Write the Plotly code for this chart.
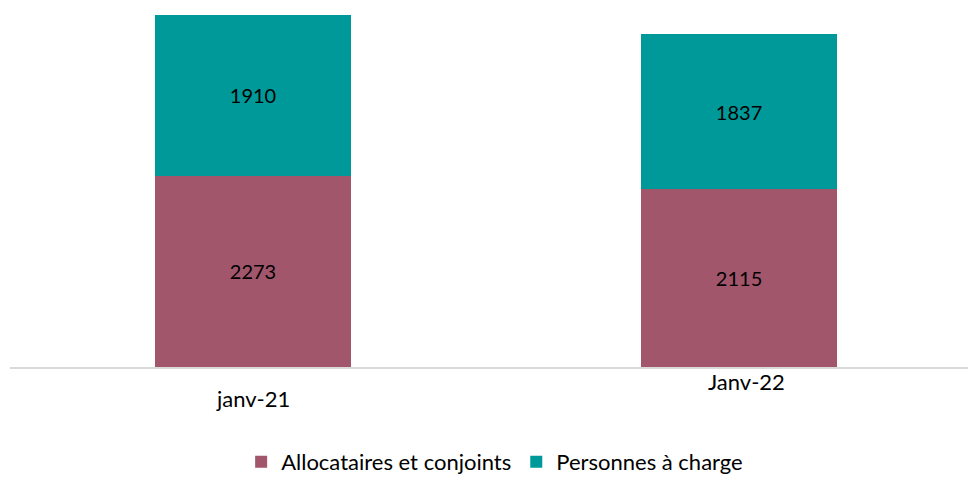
import plotly.graph_objects as go

categories = ["janv-21", "Janv-22"]
allocataires = [2273, 2115]
personnes = [1910, 1837]
series_names = ["Allocataires et conjoints", "Personnes à charge"]

FONT = "Lato"
fig = go.Figure()
fig.add_trace(go.Bar(x=[0, 1], y=allocataires, name=series_names[0],
                     marker=dict(color="#A1566C", line=dict(width=0)),
                     text=[str(v) for v in allocataires], textposition="inside",
                     insidetextanchor="middle", width=0.403,
                     textfont=dict(family=FONT, size=20, color="#000000")))
fig.add_trace(go.Bar(x=[0, 1], y=personnes, name=series_names[1],
                     marker=dict(color="#009999", line=dict(width=0)),
                     text=[str(v) for v in personnes], textposition="inside",
                     insidetextanchor="middle", width=0.403,
                     textfont=dict(family=FONT, size=20, color="#000000")))

total0 = allocataires[0] + personnes[0]
fig.update_layout(
    barmode="stack",
    width=968, height=478,
    margin=dict(l=10, r=0, t=15, b=111),
    paper_bgcolor="white", plot_bgcolor="white",
    font=dict(family=FONT, size=22, color="#000000"),
    xaxis=dict(range=[-0.5, 1.471], showticklabels=False, showgrid=False,
               zeroline=False, showline=True, linecolor="#d9d9d9", linewidth=1.5,
               ticks=""),
    yaxis=dict(range=[0, total0], visible=False),
    legend=dict(orientation="h", x=0.511, xanchor="center", xref="container",
                y=1 - 462 / 478, yanchor="middle", yref="container",
                font=dict(family=FONT, size=22), traceorder="normal",
                itemwidth=30, tracegroupgap=0),
    showlegend=True,
    hovermode=False,
    uniformtext=dict(mode=False),
)
# category labels (the second one sits higher in the reference)
label_pos = [(-0.090, 0), (-0.042, 7)]
for i, cat in enumerate(categories):
    yy, xs = label_pos[i]
    fig.add_annotation(x=i, y=yy, xref="x", yref="paper", text=cat, showarrow=False,
                       xshift=xs, yanchor="middle",
                       font=dict(family=FONT, size=22, color="#000000"))

fig.write_html("out.html", config={"displayModeBar": False},
               post_script="document.body.style.margin='0';document.body.style.overflow='hidden';")
